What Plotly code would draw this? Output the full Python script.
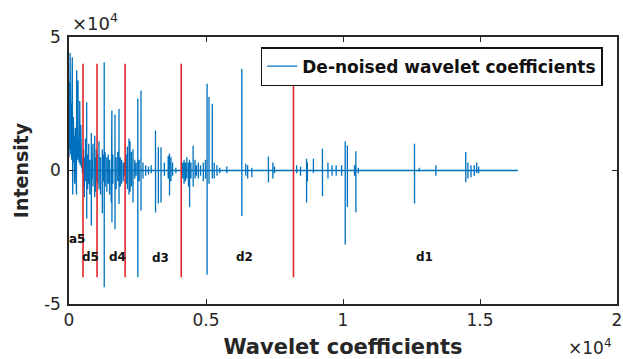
import plotly.graph_objects as go

# ---- data (values in units of 1e4 for intensity) ----
# approximation coefficients a5 (x index, value)
a5_x = [0, 8, 16, 24, 32, 40, 48, 56, 64, 72, 80, 88, 96, 104, 112, 120, 128, 136, 144, 152,
        160, 168, 176, 184, 192, 200, 208, 216, 224, 232, 240, 248, 256, 264, 272, 280, 288, 296,
        304, 312, 320, 328, 336, 344, 352, 360, 368, 376, 384, 392, 400, 408, 416, 424, 432, 440,
        448, 456, 464, 472, 480, 488, 496, 504, 511]
a5_y = [0.5, 2.6, 1.2, 3.3, 0.8, 4.4, 1.5, 2.2, 0.6, 1.8, 0.9, 2.5, 0.4, 1.6, 3.0, 4.24, 1.2, -0.9, 1.4, 0.7,
        2.0, 1.0, 1.5, 0.3, 1.2, 0.6, -0.5, 1.3, 0.8, 1.6, 0.9, 1.4, 0.5, 1.0, -0.9, 3.75, 1.1, 0.6,
        1.3, 0.4, 0.9, 3.37, 0.7, 1.2, 0.5, 1.0, 0.3, 0.8, 0.4, 2.6, 0.6, 0.2, 0.9, 0.4, 1.7, 0.3,
        0.7, 0.1, 0.5, 0.2, 0.4, -0.1, 0.3, 0.1, 0.2]

# detail coefficient spikes: position, positive peak, negative peak
spike_pos = [530, 560, 600, 646, 680, 720, 760, 814, 850, 876, 938, 970, 1000,
             1040, 1095, 1150, 1215, 1250, 1285, 1320, 1380, 1430, 1480, 1540, 1566, 1600, 1679,
             1720, 1780, 1825, 1870, 1920, 1980, 2020,
             2080, 2130, 2190, 2227, 2280, 2336, 2400, 2450, 2511, 2560, 2628, 2700, 2800, 2900,
             3000, 3157, 3260, 3358, 3480, 3620, 3668, 3720, 3780, 3900,
             4150, 4200, 4250, 4300, 4360, 4400, 4450, 4530, 4600, 4650, 4720, 4800, 4900, 4980,
             5040, 5110, 5230, 5300, 5400, 5500, 5760, 6307, 6450, 6520, 6672, 7278, 7440, 7500,
             8310, 8450, 8670, 8700, 8920, 9250, 9450, 9600, 9750, 9950, 10080, 10160, 10420,
             10470, 10560, 12610, 12780, 13390, 14480, 14560, 14670, 14790, 14880, 14950]
spike_hi = [0.8, 0.5, 1.2, 2.56, 0.6, 1.0, 0.4, 1.4, 0.7, 1.0, 1.3, 0.5, 0.8,
            0.6, 1.1, 0.5, 0.8, 0.6, 4.05, 0.7, 0.5, 0.6, 0.4, 0.8, 2.25, 0.6, 2.1,
            0.5, 0.7, 2.3, 0.5, 0.4, 0.3, 0.3,
            0.6, 0.9, 1.2, 1.1, 0.7, 0.8, 0.4, 0.3, 2.7, 0.4, 3.0, 0.3, 0.2, 0.15,
            0.2, 1.5, 0.87, 0.87, 0.3, 0.55, 0.64, 0.5, 0.3, 0.1,
            0.3, 0.4, 0.3, 0.5, 0.3, 0.4, 0.3, 0.93, 0.4, 0.2, 0.3, 0.2, 0.3, 0.4,
            3.25, 2.75, 2.5, 0.3, 0.2, 0.1, 0.15, 3.8, 0.25, 0.2, 0.1, 0.52, 0.3, 0.15,
            0.2, 0.15, 0.44, 0.3, 0.44, 0.81, 0.3, 0.2, 0.2, 0.2, 1.1, 0.94, 0.2,
            0.72, 0.1, 1.0, 0.1, 0.2, 0.69, 0.3, 0.2, 0.2, 0.3, 0.15]
spike_lo = [-0.6, -1.0, -0.4, -1.8, -0.7, -0.5, -0.9, -2.06, -0.3, -0.6, -1.0, -0.8, -0.4,
            -0.5, -0.7, -0.9, -1.6, -0.4, -4.37, -0.6, -0.8, -0.5, -0.9, -1.2, -1.94, -0.5, -2.2,
            -0.7, -0.4, -1.25, -0.6, -0.5, -0.4, -0.2,
            -0.5, -0.7, -0.9, -0.8, -0.6, -1.2, -0.3, -0.2, -4.0, -0.4, -1.5, -0.3, -0.2, -0.15,
            -0.1, -1.57, -1.24, -1.2, -0.2, -0.3, -0.94, -0.4, -0.2, -0.1,
            -0.3, -0.5, -0.4, -0.3, -0.6, -1.37, -0.3, -0.6, -0.3, -0.2, -0.3, -0.2, -0.4, -0.3,
            -3.9, -0.5, -0.3, -0.3, -0.2, -0.1, -0.1, -1.7, -0.2, -0.3, -0.25, -0.45, -0.3, -0.1,
            -0.1, -0.2, -1.2, -0.4, -0.1, -0.96, -0.3, -0.2, -0.2, -0.2, -2.77, -1.37, -0.2,
            -1.56, -0.1, -1.24, -0.05, -0.2, -0.44, -0.3, -0.25, -0.2, -0.1, -0.1]
signal_end = 16384

# decomposition boundaries and band labels
bounds = [512, 1024, 2048, 4096, 8192]
bound_top, bound_bottom = 4.0, -4.0
band_labels = ["a5", "d5", "d4", "d3", "d2", "d1"]
band_x = [280, 767, 1771, 3323, 6391, 12963]
band_y = [-2.57, -3.24, -3.24, -3.28, -3.24, -3.24]

SCALE = 1e4
FONT = "DejaVu Sans, Liberation Sans, Arial"

# ---- build the de-noised coefficient trace ----
xs = list(a5_x)
ys = [v * SCALE for v in a5_y]
for p, h, l in zip(spike_pos, spike_hi, spike_lo):
    xs += [p - 1, p, p + 1, p + 2]
    ys += [0, h * SCALE, l * SCALE, 0]
xs.append(signal_end)
ys.append(0)

fig = go.Figure()
fig.add_trace(go.Scatter(x=xs, y=ys, mode="lines", name="<b>De-noised wavelet coefficients</b>",
                         line=dict(color="#0072BD", width=1.3)))

for b in bounds:
    fig.add_trace(go.Scatter(x=[b, b], y=[bound_bottom * SCALE, bound_top * SCALE], mode="lines",
                             showlegend=False, line=dict(color="#E0262A", width=1.6),
                             hoverinfo="skip"))

for t, bx, by in zip(band_labels, band_x, band_y):
    fig.add_annotation(x=bx, y=by * SCALE, text=f"<b>{t}</b>", showarrow=False,
                       font=dict(size=12, color="#111111", family=FONT))

# exponent labels
fig.add_annotation(xref="paper", yref="paper", x=0.0, y=1.0, xanchor="left", yanchor="bottom",
                   text="×10<sup>4</sup>", showarrow=False, yshift=1, xshift=1,
                   font=dict(size=18, color="#262626", family=FONT))
fig.add_annotation(xref="paper", yref="paper", x=1.0, y=0.0, xanchor="right", yanchor="top",
                   text="×10<sup>4</sup>", showarrow=False, yshift=-30, xshift=-4,
                   font=dict(size=17, color="#262626", family=FONT))

axis_common = dict(showline=True, linecolor="#262626", linewidth=1.5, mirror="ticks",
                   ticks="inside", ticklen=5, tickcolor="#262626", tickwidth=1.3,
                   showgrid=False, zeroline=False, automargin=False,
                   tickfont=dict(size=17, color="#262626", family=FONT))

fig.update_xaxes(range=[0, 20000], tickvals=[0, 5000, 10000, 15000, 20000],
                 ticktext=["0", "0.5", "1", "1.5", "2"],
                 title=dict(text="<b>Wavelet coefficients</b>", standoff=12,
                            font=dict(size=21, color="#262626", family=FONT)),
                 **axis_common)
fig.update_yaxes(range=[-50000, 50000], tickvals=[-50000, 0, 50000], ticktext=["-5", "0", "5"],
                 ticklabelstandoff=3,
                 title=dict(text="<b>Intensity</b>", standoff=10,
                            font=dict(size=19, color="#262626", family=FONT)),
                 **axis_common)

fig.update_layout(
    width=623, height=359,
    margin=dict(l=69, r=6, t=37, b=55),
    paper_bgcolor="white", plot_bgcolor="white",
    showlegend=True,
    legend=dict(x=0.974, y=0.962, xanchor="right", yanchor="top",
                bgcolor="white", bordercolor="#111111", borderwidth=1.5,
                font=dict(size=17, color="#111111", family=FONT),
                itemwidth=30, tracegroupgap=0),
)

fig.write_html("out.html", config={"displayModeBar": False},
               post_script="document.body.style.margin='0';")
